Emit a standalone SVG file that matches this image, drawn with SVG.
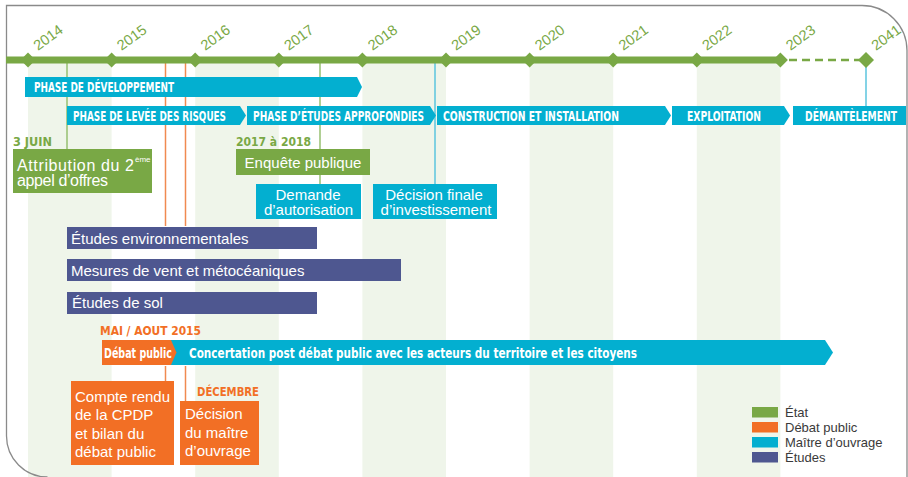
<svg xmlns="http://www.w3.org/2000/svg" width="908" height="477" viewBox="0 0 908 477">
<style>
.hd{font-family:"Liberation Sans Narrow","DejaVu Sans Condensed","Liberation Sans",sans-serif;font-weight:bold;font-size:13.5px;fill:#fff}
.bd{font-family:"Liberation Sans",Arial,sans-serif;font-size:15px;fill:#fff}
.yr{font-family:"Liberation Sans",Arial,sans-serif;font-size:14.5px;fill:#79a845}
.lg{font-family:"Liberation Sans",Arial,sans-serif;font-size:13px;fill:#3a3a3a}
.stripe{fill:#eff5ea}
.cy{fill:#03afd0}
.gr{fill:#79a845}
.or{fill:#f26f25}
.pu{fill:#4e5790}
.dm{fill:#79a845}
</style>
<rect x="0" y="0" width="908" height="477" fill="#fff"/>
<g id="stripes">
<rect class="stripe" x="28" y="60" width="83.6" height="417"/>
<rect class="stripe" x="195.2" y="60" width="83.6" height="417"/>
<rect class="stripe" x="362.4" y="60" width="83.6" height="417"/>
<rect class="stripe" x="529.6" y="60" width="83.6" height="417"/>
<rect class="stripe" x="696.8" y="60" width="83.6" height="417"/>
</g>
<path id="frame" d="M6.5,436 V5.5 H862 A45,45 0 0 1 907,50.5 V477" fill="none" stroke="#8a8a8a" stroke-width="1.3"/>
<path d="M6.5,436 A41,41 0 0 0 47.5,477" fill="none" stroke="#8a8a8a" stroke-width="1.3"/>

<g id="connectors" fill="none" stroke-width="1.5">
<line x1="67" y1="63" x2="67" y2="149" stroke="#96bf70"/>
<line x1="165.5" y1="63" x2="165.5" y2="226" stroke="#f08a50"/>
<line x1="185.5" y1="63" x2="185.5" y2="226" stroke="#f08a50"/>
<line x1="320" y1="63" x2="320" y2="184" stroke="#96bf70"/>
<line x1="435" y1="63" x2="435" y2="184" stroke="#5bc4de"/>
<line x1="866" y1="60" x2="866" y2="106" stroke="#5bc4de"/>
<line x1="165.5" y1="366" x2="165.5" y2="381" stroke="#f08a50"/>
<line x1="185.5" y1="366" x2="185.5" y2="401" stroke="#f08a50"/>
</g>

<g id="timeline">
<line x1="6" y1="60" x2="781" y2="60" stroke="#79a845" stroke-width="7"/>
<line x1="789" y1="60" x2="860" y2="60" stroke="#79a845" stroke-width="2.5" stroke-dasharray="8 5"/>
<polygon class="dm" points="28,52.5 35.5,60 28,67.5 20.5,60"/>
<polygon class="dm" points="111.6,52.5 119.1,60 111.6,67.5 104.1,60"/>
<polygon class="dm" points="195.2,52.5 202.7,60 195.2,67.5 187.7,60"/>
<polygon class="dm" points="278.8,52.5 286.3,60 278.8,67.5 271.3,60"/>
<polygon class="dm" points="362.4,52.5 369.9,60 362.4,67.5 354.9,60"/>
<polygon class="dm" points="446,52.5 453.5,60 446,67.5 438.5,60"/>
<polygon class="dm" points="529.6,52.5 537.1,60 529.6,67.5 522.1,60"/>
<polygon class="dm" points="613.2,52.5 620.7,60 613.2,67.5 605.7,60"/>
<polygon class="dm" points="696.8,52.5 704.3,60 696.8,67.5 689.3,60"/>
<polygon class="dm" points="780.4,52.5 787.9,60 780.4,67.5 772.9,60"/>
<polygon class="dm" points="866,52 874,60 866,68 858,60"/>
<text class="yr" transform="translate(38,51) rotate(-36)">2014</text>
<text class="yr" transform="translate(121.6,51) rotate(-36)">2015</text>
<text class="yr" transform="translate(205.2,51) rotate(-36)">2016</text>
<text class="yr" transform="translate(288.8,51) rotate(-36)">2017</text>
<text class="yr" transform="translate(372.4,51) rotate(-36)">2018</text>
<text class="yr" transform="translate(456,51) rotate(-36)">2019</text>
<text class="yr" transform="translate(539.6,51) rotate(-36)">2020</text>
<text class="yr" transform="translate(623.2,51) rotate(-36)">2021</text>
<text class="yr" transform="translate(706.8,51) rotate(-36)">2022</text>
<text class="yr" transform="translate(790.4,51) rotate(-36)">2023</text>
<text class="yr" transform="translate(876,51) rotate(-36)">2041</text>
</g>

<g id="phase-developpement">
<polygon class="cy" points="25,77 357,77 362,87 357,97 25,97"/>
<text class="hd" x="34" y="92" textLength="140" lengthAdjust="spacingAndGlyphs">PHASE DE DÉVELOPPEMENT</text>
</g>
<g id="phase-levee">
<polygon class="cy" points="67,106 240,106 246,115.5 240,125 67,125"/>
<text class="hd" x="73" y="120.5" textLength="153" lengthAdjust="spacingAndGlyphs">PHASE DE LEVÉE DES RISQUES</text>
</g>
<g id="phase-etudes">
<polygon class="cy" points="247,106 430,106 436,115.5 430,125 247,125"/>
<text class="hd" x="253" y="120.5" textLength="171" lengthAdjust="spacingAndGlyphs">PHASE D’ÉTUDES APPROFONDIES</text>
</g>
<g id="construction">
<polygon class="cy" points="437,106 665,106 671,115.5 665,125 437,125"/>
<text class="hd" x="443" y="120.5" textLength="176" lengthAdjust="spacingAndGlyphs">CONSTRUCTION ET INSTALLATION</text>
</g>
<g id="exploitation">
<polygon class="cy" points="672,106 784,106 790,115.5 784,125 672,125"/>
<text class="hd" x="687" y="120.5" textLength="74" lengthAdjust="spacingAndGlyphs">EXPLOITATION</text>
</g>
<g id="demantelement">
<rect class="cy" x="793" y="106" width="113" height="19"/>
<text class="hd" x="805" y="120.5" textLength="92" lengthAdjust="spacingAndGlyphs">DÉMANTÈLEMENT</text>
</g>

<g id="attribution">
<text class="hd" x="13" y="146" textLength="39" lengthAdjust="spacingAndGlyphs" style="fill:#79a845;font-size:12.5px">3 JUIN</text>
<rect class="gr" x="13" y="149" width="139" height="44"/>
<text class="bd" x="17" y="170.5" style="font-size:16px" textLength="117">Attribution du 2</text>
<text class="bd" x="135" y="162" style="font-size:8px">ème</text>
<text class="bd" x="17" y="186" style="font-size:16px" textLength="91">appel d’offres</text>
</g>
<g id="enquete">
<text class="hd" x="236" y="146" textLength="75" lengthAdjust="spacingAndGlyphs" style="fill:#79a845;font-size:12.5px">2017 à 2018</text>
<rect class="gr" x="236" y="149" width="134" height="26"/>
<text class="bd" x="303" y="168" text-anchor="middle">Enquête publique</text>
</g>
<g id="demande">
<rect class="cy" x="256" y="184" width="105" height="35"/>
<text class="bd" x="308" y="200" text-anchor="middle">Demande</text>
<text class="bd" x="308.5" y="214.5" text-anchor="middle">d’autorisation</text>
</g>
<g id="decision-finale">
<rect class="cy" x="373" y="184" width="124" height="35"/>
<text class="bd" x="434" y="200" text-anchor="middle">Décision finale</text>
<text class="bd" x="436" y="214.5" text-anchor="middle">d’investissement</text>
</g>

<g id="etudes-env">
<rect class="pu" x="67" y="227" width="250" height="22"/>
<text class="bd" x="71" y="243.5">Études environnementales</text>
</g>
<g id="mesures-vent">
<rect class="pu" x="67" y="259" width="334" height="22"/>
<text class="bd" x="71" y="275.5">Mesures de vent et métocéaniques</text>
</g>
<g id="etudes-sol">
<rect class="pu" x="67" y="292" width="250" height="22"/>
<text class="bd" x="72" y="308">Études de sol</text>
</g>

<g id="concertation">
<polygon class="cy" points="165,340 825,340 833,352.5 825,365 165,365"/>
<text class="hd" x="189" y="357.5" textLength="448" lengthAdjust="spacingAndGlyphs" style="font-size:14px">Concertation post débat public avec les acteurs du territoire et les citoyens</text>
</g>
<g id="debat-public">
<text class="hd" x="100" y="335" textLength="101" lengthAdjust="spacingAndGlyphs" style="fill:#f26f25;font-size:12.5px">MAI / AOUT 2015</text>
<polygon class="or" points="102,340 171,340 176.5,352.5 171,365 102,365"/>
<text class="hd" x="104" y="357.5" textLength="68" lengthAdjust="spacingAndGlyphs" style="font-size:14px">Débat public</text>
</g>
<g id="compte-rendu">
<rect class="or" x="71" y="381" width="103" height="84"/>
<text class="bd" x="75" y="401.5">Compte rendu</text>
<text class="bd" x="75" y="420">de la CPDP</text>
<text class="bd" x="75" y="438.5">et bilan du</text>
<text class="bd" x="75" y="457">débat public</text>
</g>
<g id="decision-maitre">
<text class="hd" x="197" y="396" textLength="62" lengthAdjust="spacingAndGlyphs" style="fill:#f26f25;font-size:12.5px">DÉCEMBRE</text>
<rect class="or" x="180" y="401" width="79" height="64"/>
<text class="bd" x="185" y="419">Décision</text>
<text class="bd" x="185" y="437.5">du maître</text>
<text class="bd" x="185" y="456">d’ouvrage</text>
</g>

<g id="legend">
<rect class="gr" x="752" y="407" width="26" height="10.5"/>
<rect class="or" x="752" y="422" width="26" height="10.5"/>
<rect class="cy" x="752" y="437" width="26" height="10.5"/>
<rect class="pu" x="752" y="452" width="26" height="10.5"/>
<text class="lg" x="785" y="416.5">État</text>
<text class="lg" x="785" y="431.5">Débat public</text>
<text class="lg" x="785" y="446.5">Maître d’ouvrage</text>
<text class="lg" x="785" y="461.5">Études</text>
</g>
</svg>
